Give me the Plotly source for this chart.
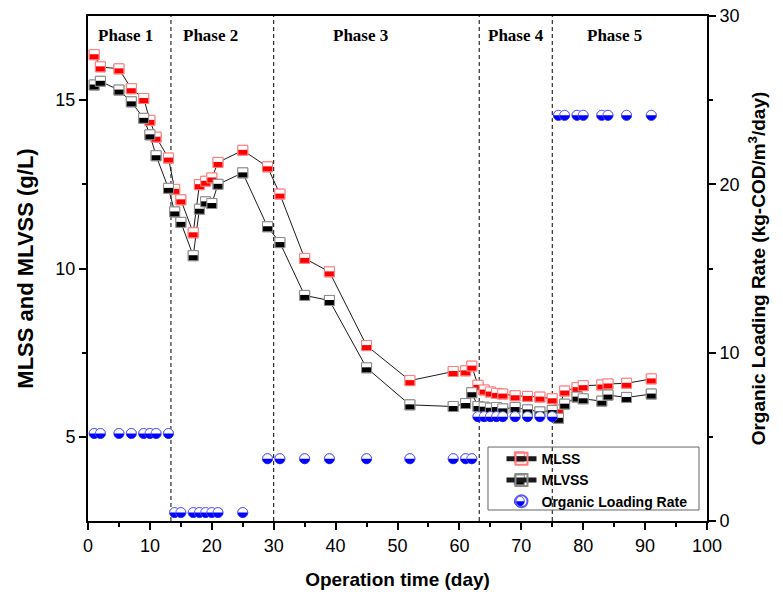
import plotly.graph_objects as go

# ---------------- data ----------------
days = [1, 2, 5, 7, 9, 10, 11, 13, 14, 15, 17, 18, 19, 20, 21, 25, 29, 31, 35, 39,
        45, 52, 59, 61, 62, 63, 64, 65, 66, 67, 69, 71, 73, 75, 76, 77, 79, 80, 83,
        84, 87, 91]
mlss = [16.35, 15.99, 15.93, 15.34, 15.05, 14.40, 13.90, 13.28, 12.35, 12.04, 11.06,
        12.49, 12.59, 12.69, 13.15, 13.51, 13.02, 12.21, 10.30, 9.90, 7.71, 6.67, 6.94,
        6.96, 7.10, 6.53, 6.39, 6.33, 6.29, 6.27, 6.22, 6.20, 6.18, 6.13, 5.80, 6.36,
        6.46, 6.52, 6.54, 6.57, 6.59, 6.72]
mlvss = [15.45, 15.56, 15.30, 14.95, 14.46, 13.97, 13.35, 12.38, 11.68, 11.37, 10.38,
         11.76, 11.98, 11.93, 12.50, 12.84, 11.24, 10.77, 9.20, 9.05, 7.05, 5.95, 5.90,
         5.99, 6.31, 5.90, 5.88, 5.85, 5.87, 5.83, 5.87, 5.80, 5.74, 5.78, 5.55, 5.97,
         6.18, 6.13, 6.06, 6.24, 6.17, 6.27]
olr_days = [1, 2, 5, 7, 9, 10, 11, 13,
            14, 15, 17, 18, 19, 20, 21, 25,
            29, 31, 35, 39, 45, 52, 59, 61, 62,
            63, 64, 65, 66, 67, 69, 71, 73, 75,
            76, 77, 79, 80, 83, 84, 87, 91]
olr = [5.2, 5.2, 5.2, 5.2, 5.2, 5.2, 5.2, 5.2,
       0.5, 0.5, 0.5, 0.5, 0.5, 0.5, 0.5, 0.5,
       3.7, 3.7, 3.7, 3.7, 3.7, 3.7, 3.7, 3.7, 3.7,
       6.2, 6.2, 6.2, 6.2, 6.2, 6.2, 6.2, 6.2, 6.2,
       24.1, 24.1, 24.1, 24.1, 24.1, 24.1, 24.1, 24.1]
phase_bounds = [13.4, 30, 63.2, 75]
phase_names = ["Phase 1", "Phase 2", "Phase 3", "Phase 4", "Phase 5"]
phase_label_x = [6.0, 19.8, 44.0, 69.2, 85.0]

# ---------------- style ----------------
RED, RED_EDGE = "#ff0000", "#ff7b7b"
BLK, BLK_EDGE = "#000000", "#8a8a8a"
BLUE, BLUE_EDGE = "#0000ff", "#5a5aff"
SANS = "Liberation Sans, Arial, sans-serif"
SERIF = "Liberation Serif, Times New Roman, serif"
H = 5.0  # half marker size in px
K = 0.5523

fig = go.Figure()
fig.add_trace(go.Scatter(
    x=days, y=mlss, name="MLSS", mode="lines+markers",
    line=dict(color="#1a1a1a", width=1),
    marker=dict(symbol="square", size=10, color="rgba(0,0,0,0)",
                line=dict(color=RED_EDGE, width=1))))
fig.add_trace(go.Scatter(
    x=days, y=mlvss, name="MLVSS", mode="lines+markers",
    line=dict(color="#1a1a1a", width=1),
    marker=dict(symbol="square", size=10, color="rgba(0,0,0,0)",
                line=dict(color=BLK_EDGE, width=1))))
fig.add_trace(go.Scatter(
    x=olr_days, y=olr, name="Organic Loading Rate", mode="markers", yaxis="y2",
    marker=dict(symbol="circle", size=10, color="rgba(0,0,0,0)",
                line=dict(color=BLUE_EDGE, width=1))))

shapes = []
# phase separators
for b in phase_bounds:
    shapes.append(dict(type="line", xref="x", yref="paper", x0=b, x1=b, y0=0, y1=1,
                       line=dict(color="black", width=1, dash="4px,3px"), layer="below"))


def half_square(xref, yref, xa, ya, col, edge):
    base = dict(xref=xref, yref=yref, xsizemode="pixel", ysizemode="pixel",
                xanchor=xa, yanchor=ya, layer="above")
    return [
        dict(type="rect", x0=-H, x1=H, y0=-H, y1=H, fillcolor="white",
             line=dict(color=edge, width=1), **base),
        dict(type="rect", x0=-H + 0.5, x1=H - 0.5, y0=-H + 0.5, y1=0.5, fillcolor=col,
             line=dict(width=0), **base),
    ]


def half_circle(xref, yref, xa, ya, col, edge):
    base = dict(xref=xref, yref=yref, xsizemode="pixel", ysizemode="pixel",
                xanchor=xa, yanchor=ya, layer="above")
    r = H
    p = (f"M {-r},0 C {-r},{-K*r} {-K*r},{-r} 0,{-r} "
         f"C {K*r},{-r} {r},{-K*r} {r},0 Z")
    return [
        dict(type="circle", x0=-r, x1=r, y0=-r, y1=r, fillcolor="white",
             line=dict(color=edge, width=1), **base),
        dict(type="path", path=p, fillcolor=col, line=dict(width=0), **base),
    ]


for d, v in zip(days, mlss):
    shapes += half_square("x", "y", d, v, RED, RED_EDGE)
for d, v in zip(days, mlvss):
    shapes += half_square("x", "y", d, v, BLK, BLK_EDGE)
for d, v in zip(olr_days, olr):
    shapes += half_circle("x", "y2", d, v, BLUE, BLUE_EDGE)

# legend box and legend symbol fills (paper coordinates)
shapes.append(dict(type="rect", xref="paper", yref="paper",
                   x0=0.6462, x1=0.9871, y0=0.0218, y1=0.1465,
                   line=dict(color="#666666", width=1), fillcolor="rgba(0,0,0,0)",
                   layer="above"))
leg_x = 0.6968
leg_y = [0.1271, 0.0812, 0.0392]
shapes += half_square("paper", "paper", leg_x, leg_y[0], RED, RED_EDGE)
shapes += half_square("paper", "paper", leg_x, leg_y[1], BLK, BLK_EDGE)
shapes += half_circle("paper", "paper", leg_x, leg_y[2], BLUE, BLUE_EDGE)

annotations = [dict(x=px, y=0.962, xref="x", yref="paper", text=f"<b>{t}</b>",
                    xanchor="center", yanchor="middle",
                    showarrow=False, font=dict(family=SERIF, size=17, color="black"))
               for px, t in zip(phase_label_x, phase_names)]

axis_common = dict(showgrid=False, zeroline=False, showline=True, linecolor="black",
                   linewidth=2, ticks="outside", tickcolor="black", tickwidth=1.5,
                   ticklen=7, automargin=False,
                   tickfont=dict(family=SANS, size=18, color="black"))

fig.update_layout(
    width=783, height=595, autosize=False,
    margin=dict(l=88, r=76, t=16, b=74),
    paper_bgcolor="white", plot_bgcolor="white",
    showlegend=True,
    legend=dict(x=0.668, y=0.154, xanchor="left", yanchor="top",
                bgcolor="rgba(0,0,0,0)", borderwidth=0,
                font=dict(family=SANS, size=14, color="black", weight="bold"),
                tracegroupgap=0, itemsizing="constant"),
    xaxis=dict(range=[0, 100], dtick=10, tick0=0, mirror=True,
               minor=dict(dtick=5, ticklen=4, tickcolor="black", tickwidth=1.5,
                          ticks="outside"),
               title=dict(text="<b>Operation time (day)</b>", standoff=18,
                          font=dict(family=SANS, size=19, color="black")),
               **axis_common),
    yaxis=dict(range=[2.5, 17.5], tickvals=[5, 10, 15],
               minor=dict(tickvals=[7.5, 12.5], ticklen=4, tickcolor="black",
                          tickwidth=1.5, ticks="outside"),
               title=dict(text="<b>MLSS and MLVSS (g/L)</b>", standoff=16,
                          font=dict(family=SANS, size=22, color="black")),
               **axis_common),
    yaxis2=dict(range=[0, 30], dtick=10, tick0=0, overlaying="y", side="right",
                minor=dict(dtick=5, ticklen=4, tickcolor="black", tickwidth=1.5,
                           ticks="outside"),
                title=dict(text="<b>Organic Loading Rate (kg-COD/m<sup>3</sup>/day)</b>",
                           standoff=13, font=dict(family=SANS, size=19, color="black")),
                **axis_common),
    shapes=shapes,
    annotations=annotations,
)

fig.write_html("out.html")
